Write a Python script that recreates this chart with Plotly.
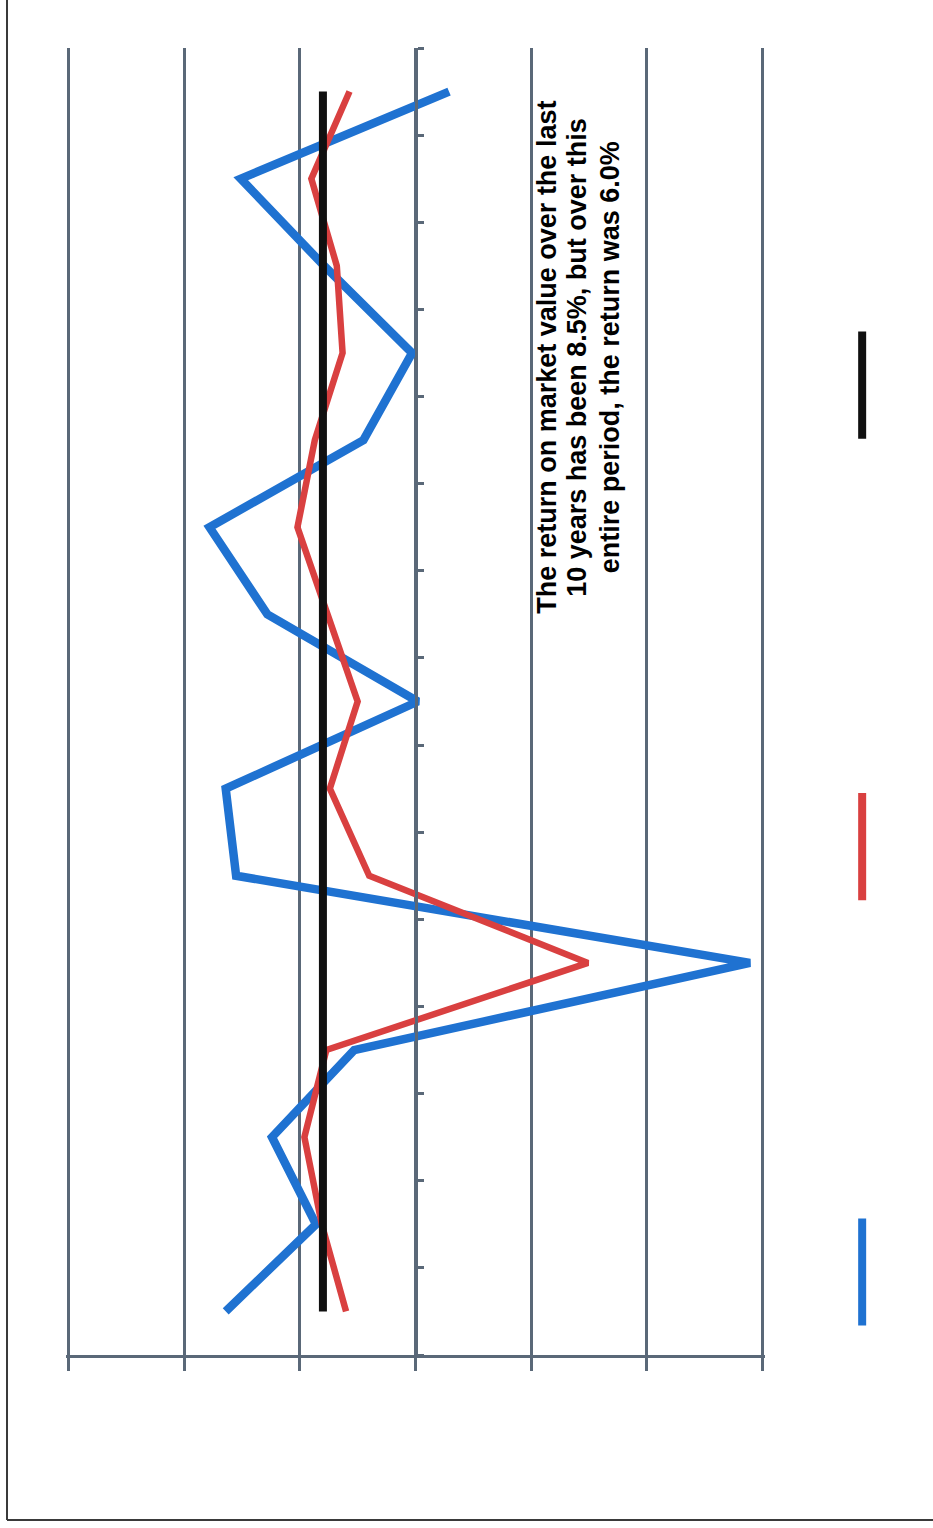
import plotly.graph_objects as go

# Periods, first period at the bottom of the chart
periods = list(range(1, 16))

# Annual return on market value (%), first period first
annual_return = [16.4, 8.6, 12.4, 5.3, -28.9, 15.5, 16.4, -0.2, 12.8, 17.8, 4.5, 0.3, 7.9, 15.1, -2.9]
# Rolling return (%)
rolling_return = [6.0, 8.1, 9.6, 7.7, -14.9, 4.0, 7.4, 5.0, 7.6, 10.2, 8.7, 6.3, 6.8, 9.0, 5.7]
# Long-run reference level (%)
reference_level = [8.0] * len(periods)

value_ticks = [-30, -20, -10, 0, 10, 20, 30]
period_bounds = [p - 0.5 for p in periods] + [periods[-1] + 0.5]

note_lines = [
    "The return on market value over the last",
    "10 years has been 8.5%, but over this",
    "entire period, the return was 6.0%",
]
note_x = [-11.4, -14.0, -16.8]
note_y = 11.95

BLUE = "#1f72d1"
RED = "#d94040"
BLACK = "#101010"
GRID = "#5a6878"

series = [
    ("Annual return", annual_return, BLUE, 8.5),
    ("Rolling return", rolling_return, RED, 6.5),
    ("Reference", reference_level, BLACK, 8),
]

fig = go.Figure()
for name, vals, color, width in series:
    fig.add_trace(go.Scatter(
        x=vals, y=periods, mode="lines", name=name,
        line=dict(color=color, width=width),
        showlegend=False,
    ))

for line, xv in zip(note_lines, note_x):
    fig.add_annotation(
        x=xv, y=note_y, xref="x", yref="y",
        text="<b>" + line + "</b>", showarrow=False, textangle=-90,
        font=dict(family="Liberation Sans, Arial, sans-serif", size=27, color="#000000"),
    )

# Vertical key strokes for each series, stacked along the right margin
key_x = 1.139
key_len = 0.082
key_centres = [0.0635, 0.389, 0.742]  # blue, red, black (paper fractions)
for (name, vals, color, width), yc in zip(series, key_centres):
    fig.add_shape(type="line", xref="paper", yref="paper",
                  x0=key_x, x1=key_x, y0=yc - key_len / 2, y1=yc + key_len / 2,
                  line=dict(color=color, width=8))

# Page frame: left and bottom edges
fig.add_shape(type="line", xref="paper", yref="paper",
              x0=-0.0844, x1=-0.0844, y0=-0.1262, y1=1.04,
              line=dict(color="#3a3a3a", width=2))
fig.add_shape(type="line", xref="paper", yref="paper",
              x0=-0.0844, x1=1.25, y0=-0.1262, y1=-0.1262,
              line=dict(color="#3a3a3a", width=2))

fig.update_layout(
    width=933, height=1528,
    margin=dict(l=66, r=168, t=48, b=173),
    paper_bgcolor="white", plot_bgcolor="white",
    xaxis=dict(
        range=[30.2, -30.2], tickvals=value_ticks, showticklabels=False,
        showgrid=True, gridcolor=GRID, gridwidth=3,
        zeroline=False, showline=True, linecolor=GRID, linewidth=3,
        ticks="outside", ticklen=13, tickwidth=3, tickcolor=GRID,
    ),
    yaxis=dict(
        range=[0.5, 15.5], tickvals=period_bounds, showticklabels=False,
        showgrid=False, zeroline=False,
        anchor="free", position=0.5, side="right",
        showline=True, linecolor=GRID, linewidth=3,
        ticks="outside", ticklen=6, tickwidth=3, tickcolor=GRID,
    ),
)

fig.write_html("out.html")
